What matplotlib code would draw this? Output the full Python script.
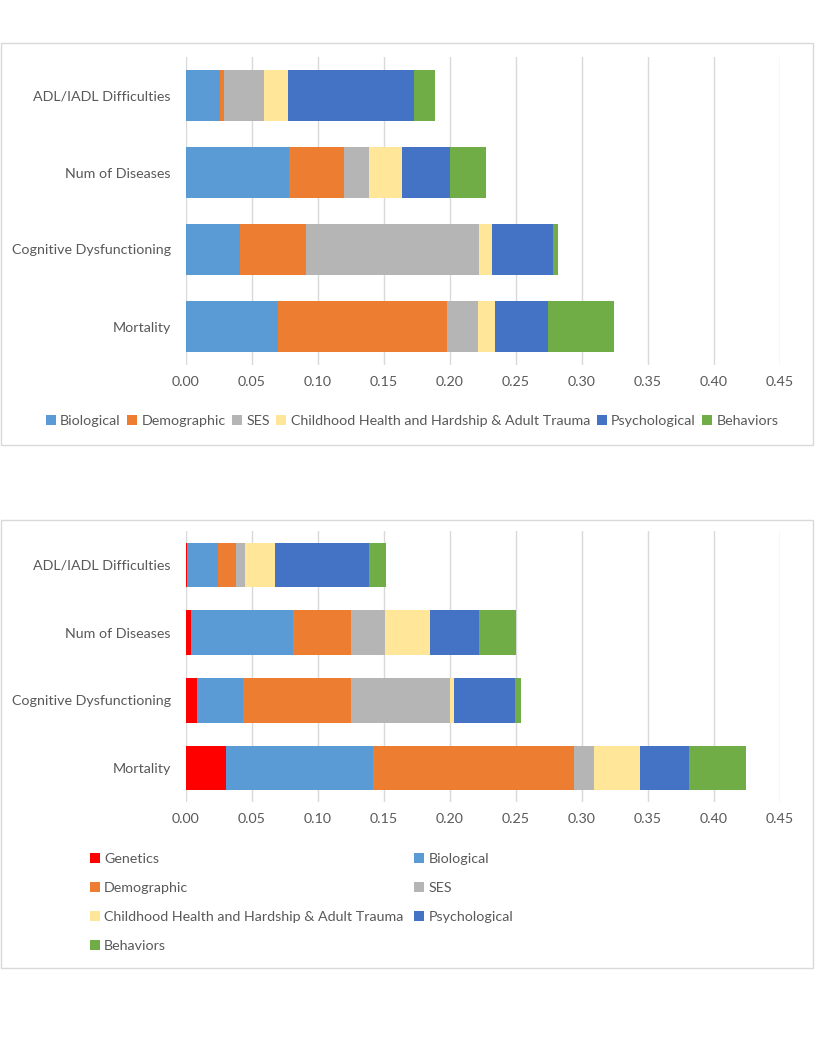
import matplotlib.pyplot as plt
import matplotlib.patches as mpatches
import numpy as np

plt.rcParams['font.family'] = ['Lato', 'DejaVu Sans']

W, H = 815, 1050

categories = ['ADL/IADL Difficulties', 'Num of Diseases', 'Cognitive Dysfunctioning', 'Mortality']
xticks = np.arange(0, 0.451, 0.05)

# top chart (no genetics)
top_series = ['Biological', 'Demographic', 'SES', 'Childhood Health and Hardship & Adult Trauma',
              'Psychological', 'Behaviors']
top_bio = [0.026, 0.078, 0.041, 0.070]
top_dem = [0.003, 0.042, 0.050, 0.128]
top_ses = [0.030, 0.019, 0.131, 0.023]
top_child = [0.018, 0.025, 0.010, 0.013]
top_psych = [0.096, 0.036, 0.046, 0.040]
top_behav = [0.016, 0.027, 0.004, 0.050]

# bottom chart (with genetics)
bot_series = ['Genetics'] + top_series
bot_gen = [0.001, 0.004, 0.008, 0.030]
bot_bio = [0.0235, 0.077, 0.035, 0.112]
bot_dem = [0.013, 0.044, 0.082, 0.152]
bot_ses = [0.007, 0.026, 0.075, 0.015]
bot_child = [0.023, 0.034, 0.003, 0.035]
bot_psych = [0.071, 0.037, 0.046, 0.037]
bot_behav = [0.013, 0.028, 0.005, 0.043]

colors = {'Genetics': '#FF0000', 'Biological': '#5B9BD5', 'Demographic': '#ED7D31',
          'SES': '#B5B5B5', 'Childhood Health and Hardship & Adult Trauma': '#FFE699',
          'Psychological': '#4472C4', 'Behaviors': '#70AD47'}

grey_txt = '#595959'
FS = 10.3


def px_axes(fig, x0, y0, x1, y1):
    """add axes from pixel box (top-left origin)"""
    return fig.add_axes([x0 / W, 1 - y1 / H, (x1 - x0) / W, (y1 - y0) / H])


def draw_stack(ax, names, data):
    y = np.arange(len(categories))
    left = np.zeros(len(categories))
    handles = []
    for name, vals in zip(names, data):
        b = ax.barh(y, vals, left=left, height=0.66, color=colors[name], label=name)
        handles.append(b)
        left += np.array(vals)
    ax.set_ylim(len(categories) - 0.5, -0.5)
    ax.set_xlim(0, 0.45)
    ax.set_xticks(xticks)
    ax.set_xticklabels([f'{t:.2f}' for t in xticks])
    ax.set_yticks(y)
    ax.set_yticklabels(categories)
    ax.tick_params(axis='both', length=0, colors=grey_txt, labelsize=FS)
    ax.tick_params(axis='y', pad=11)
    ax.tick_params(axis='x', pad=8)
    for s in ax.spines.values():
        s.set_visible(False)
    ax.grid(axis='x', color='#D9D9D9', linewidth=1)
    ax.set_axisbelow(True)
    return handles


fig = plt.figure(figsize=(W / 100, H / 100), dpi=100)

# chart borders
for (x0, y0, x1, y1) in [(1, 43, 813, 445), (1, 520, 813, 968)]:
    fig.add_artist(mpatches.Rectangle((x0 / W, 1 - y1 / H), (x1 - x0) / W, (y1 - y0) / H,
                                      transform=fig.transFigure, fill=False,
                                      edgecolor='#D9D9D9', linewidth=1))

ax1 = px_axes(fig, 186, 57, 780, 365)
h1 = draw_stack(ax1, top_series, [top_bio, top_dem, top_ses, top_child, top_psych, top_behav])
fig.legend(handles=h1, loc='center', bbox_to_anchor=(412 / W, 1 - 421 / H), ncol=6, frameon=False,
           fontsize=FS, labelcolor=grey_txt, handlelength=0.7, handleheight=0.7,
           handletextpad=0.3, columnspacing=0.45)

ax2 = px_axes(fig, 186, 531, 780, 802)
h2 = draw_stack(ax2, bot_series, [bot_gen, bot_bio, bot_dem, bot_ses, bot_child, bot_psych, bot_behav])
order = [0, 2, 4, 6, 1, 3, 5]
fig.legend(handles=[h2[i] for i in order], loc='upper left', bbox_to_anchor=(77 / W, 1 - 840 / H),
           ncol=2, frameon=False, fontsize=FS, labelcolor=grey_txt, handlelength=0.7,
           handleheight=0.7, handletextpad=0.3, columnspacing=0.75, labelspacing=1.2)

fig.savefig('out.png', dpi=100)
